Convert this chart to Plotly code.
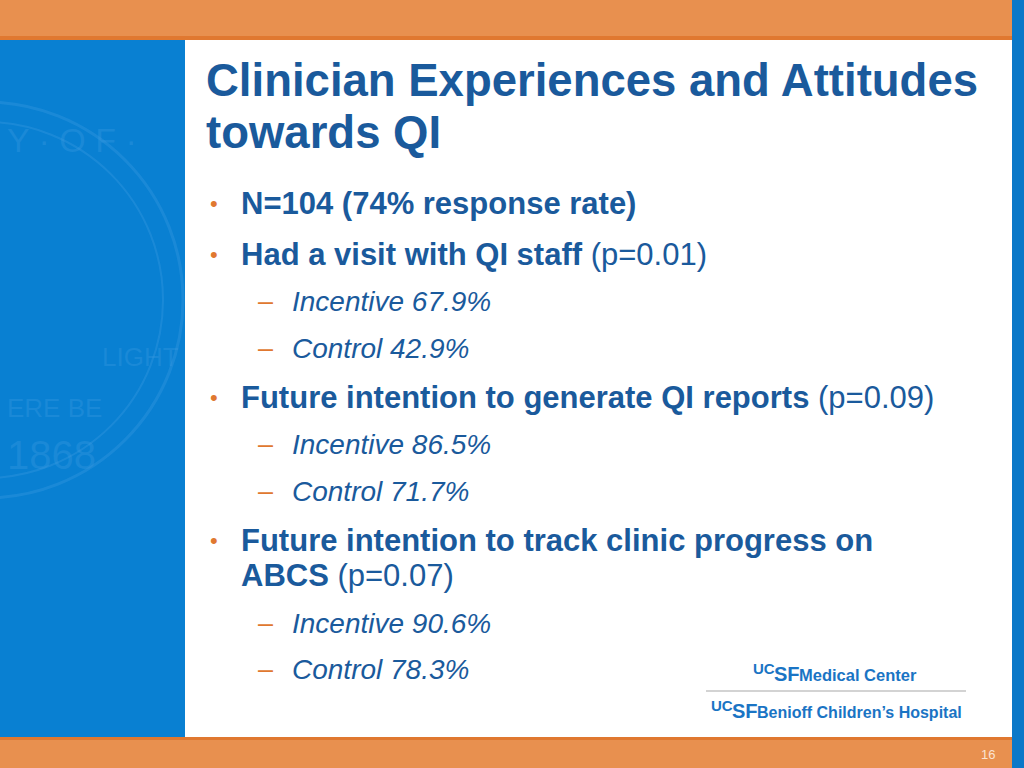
import plotly.graph_objects as go

# ---- data ----
title_lines = ["Clinician Experiences and Attitudes", "towards QI"]
sample_n = 104
response_rate = 74
measures = ["Had a visit with QI staff",
            "Future intention to generate QI reports",
            "Future intention to track clinic progress on ABCS"]
p_values = ["0.01", "0.09", "0.07"]
groups = ["Incentive", "Control"]
incentive_pct = [67.9, 86.5, 90.6]
control_pct = [42.9, 71.7, 78.3]
page_number = "16"

# ---- style ----
W, H = 1024, 768
ORANGE = "#E8904F"
ORANGE_DARK = "#E07830"
BLUE = "#0980D2"
TEXT = "#1A5A9C"
LOGO = "#1A74C4"
FONT = "Liberation Sans, Arial, sans-serif"
WM = "rgba(60,155,225,0.35)"

fig = go.Figure()
shapes = []
shapes.append(dict(type="rect", x0=0, x1=W, y0=0, y1=H, fillcolor="white", line_width=0, layer="below"))
shapes.append(dict(type="rect", x0=0, x1=1012, y0=0, y1=37, fillcolor=ORANGE, line_width=0, layer="below"))
shapes.append(dict(type="rect", x0=0, x1=1012, y0=36, y1=40, fillcolor=ORANGE_DARK, line_width=0, layer="below"))
shapes.append(dict(type="rect", x0=0, x1=185, y0=40, y1=737, fillcolor=BLUE, line_width=0, layer="below"))
shapes.append(dict(type="rect", x0=0, x1=1012, y0=737, y1=740, fillcolor=ORANGE_DARK, line_width=0, layer="below"))
shapes.append(dict(type="rect", x0=0, x1=1012, y0=740, y1=H, fillcolor=ORANGE, line_width=0, layer="below"))
shapes.append(dict(type="rect", x0=1012, x1=W, y0=0, y1=H, fillcolor="#0A78C8", line_width=0, layer="below"))
# faint seal watermark on blue panel
for r, w in [(198, 3), (178, 2)]:
    shapes.append(dict(type="circle", x0=-15 - r, x1=-15 + r, y0=300 - r, y1=300 + r,
                       line=dict(color=WM, width=w), layer="below"))
# logo separator line
shapes.append(dict(type="line", x0=706, x1=966, y0=691, y1=691, line=dict(color="#A8A8A8", width=1.2)))

ann = []
def txt(x, y, s, size, color=TEXT, anchor="left", family=FONT, pad=1):
    ann.append(dict(x=x, y=y, xref="x", yref="y", text=s, showarrow=False, xanchor=anchor,
                    yanchor="middle", borderpad=pad, font=dict(family=family, size=size, color=color)))

# seal watermark text
for (x, y, s, sz) in [(5, 140, "Y · O F ·", 34), (100, 357, "LIGHT", 26), (5, 408, "ERE BE", 26), (5, 455, "1868", 40)]:
    txt(x, y, s, sz, color=WM)

# title
txt(204, 80, "<b>%s</b>" % title_lines[0], 45.5)
txt(204, 132, "<b>%s</b>" % title_lines[1], 45.5)

bullet = "<span style='color:%s'>•</span>" % ORANGE_DARK
dash = "<span style='color:%s'>–</span>" % ORANGE_DARK

def bullet_line(y, s):
    txt(208, y, bullet, 22)
    txt(239, y, s, 31)

def sub_line(y, s):
    txt(256, y, dash, 27)
    txt(290, y, "<i>%s</i>" % s, 28)

bullet_line(203, "<b>N=%d (%d%% response rate)</b>" % (sample_n, response_rate))

ys = [(254, [301, 348]), (397, [444, 491]), (540, [623, 669])]
for i, (yb, ysub) in enumerate(ys):
    if i == 2:
        words = measures[i].rsplit(" ", 1)
        bullet_line(yb, "<b>%s</b>" % words[0])
        txt(239, 575, "<b>%s</b> (p=%s)" % (words[1], p_values[i]), 31)
    else:
        bullet_line(yb, "<b>%s</b> (p=%s)" % (measures[i], p_values[i]))
    sub_line(ysub[0], "%s %.1f%%" % (groups[0], incentive_pct[i]))
    sub_line(ysub[1], "%s %.1f%%" % (groups[1], control_pct[i]))

# logos
def ucsf(x, y):
    txt(x, y - 5, "<b>UC</b>", 15, color=LOGO, pad=0)
    txt(x + 21, y + 1, "<b>SF</b>", 20, color=LOGO, pad=0)

ucsf(752, 673)
txt(797, 675, "<b>Medical Center</b>", 16.5, color=LOGO)
ucsf(710, 710)
txt(755, 712, "<b>Benioff Children’s Hospital</b>", 16, color=LOGO)

# page number
txt(988, 754, page_number, 13, color="#FBE3D2", anchor="center")

fig.update_layout(
    width=W, height=H, margin=dict(l=0, r=0, t=0, b=0),
    paper_bgcolor="white", plot_bgcolor="white",
    xaxis=dict(range=[0, W], visible=False, fixedrange=True),
    yaxis=dict(range=[H, 0], visible=False, fixedrange=True),
    shapes=shapes, annotations=ann, showlegend=False,
)
fig.write_html("out.html", config={"displayModeBar": False},
               post_script="document.body.style.margin='0';document.body.style.padding='0';")
